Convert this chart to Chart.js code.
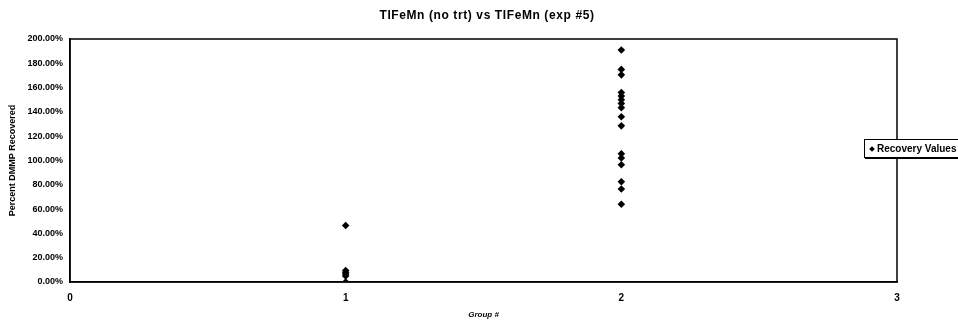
<!DOCTYPE html>
<html>
<head>
<meta charset="utf-8">
<script src="https://cdn.jsdelivr.net/npm/chart.js@4/dist/chart.umd.min.js"></script>
<style>
  body { margin: 0; background: #fff; }
  #wrap { position: relative; width: 958px; height: 320px; overflow: hidden; }
  #title { position: absolute; left: 0; width: 974px; top: 8px; text-align: center;
           font: bold 12px "Liberation Sans", Arial, sans-serif; letter-spacing: 0.6px; color: #000; }
  #legend { position: absolute; left: 864px; top: 139px; width: 120px; height: 17px;
            border: 1px solid #000; background: #fff; box-shadow: 1px 1px 0 #000;
            font: bold 10px "Liberation Sans", Arial, sans-serif; line-height: 17px; white-space: nowrap; }
  #legend span { display: inline-block; width: 4px; height: 4px; background: #000;
                 transform: rotate(45deg); margin: 0 3px 1px 5px; }
</style>
</head>
<body>
<div id="wrap">
  <canvas id="chart" width="958" height="320"></canvas>
  <div id="title">TIFeMn (no trt) vs TIFeMn (exp #5)</div>
  <div id="legend"><span></span>Recovery Values</div>
</div>
<script>
// 数据
const groups = [1, 2];
const group1Values = [46.5, 9.5, 8, 6.5, 5, 0];
const group2Values = [191, 175, 170.5, 156, 153, 150, 147, 143.5, 136, 128.5, 105.5, 102, 96.5, 82.5, 76.5, 64];
const yTicks = [0, 20, 40, 60, 80, 100, 120, 140, 160, 180, 200];
const xTicks = [0, 1, 2, 3];

const points = [];
group1Values.forEach(v => points.push({ x: groups[0], y: v }));
group2Values.forEach(v => points.push({ x: groups[1], y: v }));

// 画外框
const boxPlugin = {
    id: 'box',
    afterDraw(chart) {
        const { ctx, chartArea: a } = chart;
        ctx.save();
        ctx.strokeStyle = '#000';
        ctx.lineWidth = 1.5;
        ctx.strokeRect(a.left, a.top, a.right - a.left, a.bottom - a.top);
        ctx.restore();
    }
};

const fam = '"Liberation Sans", Arial, sans-serif';

new Chart(document.getElementById('chart'), {
    type: 'scatter',
    data: {
        datasets: [{
            label: 'Recovery Values',
            data: points,
            pointStyle: 'rectRot',
            pointRadius: 3.8,
            backgroundColor: '#000',
            borderColor: '#000',
            borderWidth: 0
        }]
    },
    options: {
        responsive: false,
        animation: false,
        layout: { padding: { top: 39, right: 61, left: 0, bottom: 0 } },
        plugins: { legend: { display: false }, tooltip: { enabled: false } },
        scales: {
            x: {
                min: 0, max: 3,
                afterBuildTicks: s => { s.ticks = xTicks.map(v => ({ value: v })); },
                afterFit: s => { s.height = 38; },
                grid: { display: false, drawTicks: true, tickLength: 4 },
                border: { color: '#000', width: 1.5 },
                ticks: { color: '#000', font: { family: fam, size: 10, weight: 'bold' }, padding: 6, maxRotation: 0 },
                title: { display: true, text: 'Group #', color: '#000',
                         font: { family: fam, size: 8, weight: 'bold', style: 'italic' }, padding: 0 }
            },
            y: {
                min: 0, max: 200,
                afterBuildTicks: s => { s.ticks = yTicks.map(v => ({ value: v })); },
                afterFit: s => { s.width = 70; },
                grid: { display: false, drawTicks: true, tickLength: 4 },
                border: { color: '#000', width: 1.5 },
                ticks: { color: '#000', font: { family: fam, size: 9, weight: 'bold' }, padding: 3,
                         callback: v => v.toFixed(2) + '%' },
                title: { display: true, text: 'Percent DMMP Recovered', color: '#000',
                         font: { family: fam, size: 9, weight: 'bold' }, padding: { top: 7, bottom: 0 } }
            }
        }
    },
    plugins: [boxPlugin]
});
</script>
</body>
</html>
